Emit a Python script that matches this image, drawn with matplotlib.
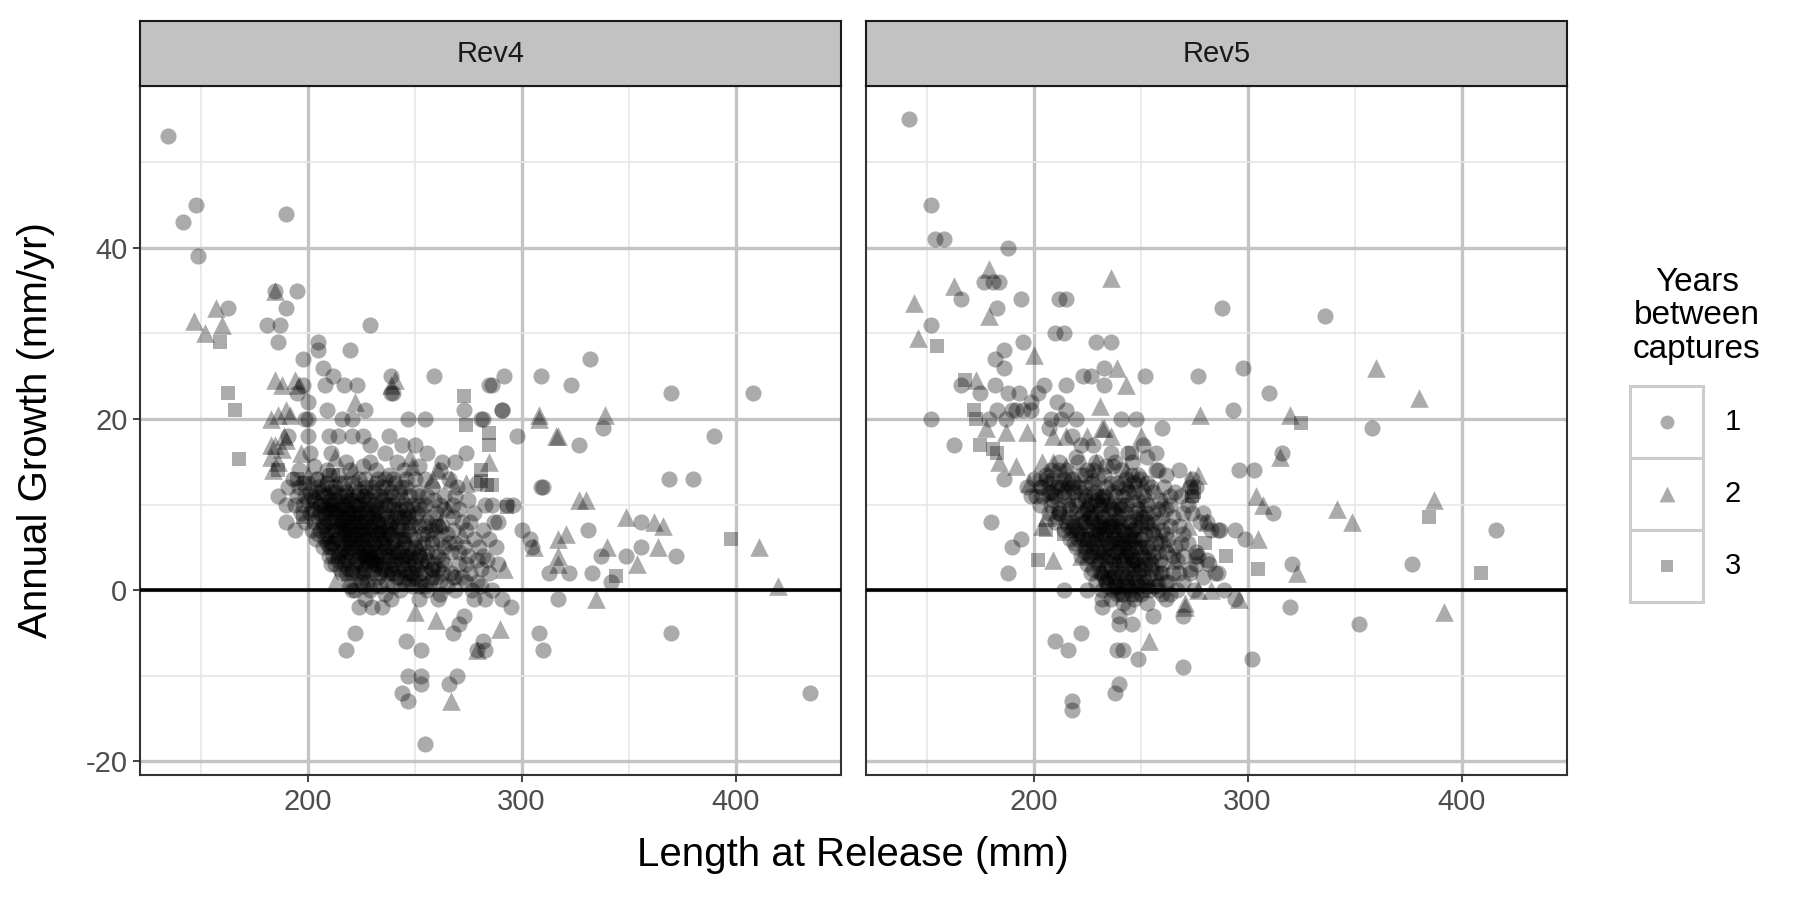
import matplotlib.pyplot as plt
from matplotlib.patches import Rectangle

plt.rcParams['font.family'] = ['Liberation Sans', 'DejaVu Sans']

panel_names = ['Rev4', 'Rev5']
legend_labels = ['1', '2', '3']
x_ticks = [200, 300, 400]
y_ticks = [-20, 0, 20, 40]
x_minor = [150, 250, 350]
y_minor = [-10, 10, 30, 50]

# (length at release, annual growth)
rev4_circle = [
    (135, 53), (148, 45), (142, 43), (190, 44), (149, 39), (185, 35), (195, 35), (190, 33), (163, 33),
    (181, 31), (187, 31), (186, 29), (229, 31), (205, 29), (205, 28), (198, 27), (220, 28), (207, 26),
    (212, 25), (208, 24), (217, 24), (223, 24), (239, 25), (240, 23), (259, 25), (285, 24), (273, 21),
    (282, 20), (198, 24), (195, 23), (200, 22), (209, 21), (227, 21), (200, 20), (247, 20), (255, 20),
    (332, 27), (309, 25), (292, 25), (286, 24), (323, 24), (370, 23), (408, 23), (291, 21), (338, 19),
    (298, 18), (327, 17), (390, 18), (369, 13), (380, 13), (309, 12), (356, 8), (331, 7), (300, 7),
    (304, 6), (337, 4), (349, 4), (356, 5), (372, 4), (342, 1), (313, 2), (322, 2), (333, 2), (317, -1),
    (295, -2), (308, -5), (310, -7), (370, -5), (435, -12), (293, 10), (296, 10),
    (222, -5), (218, -7), (246, -6), (253, -7), (247, -10), (253, -10), (253, -11), (244, -12),
    (247, -13), (255, -18), (266, -11), (270, -10), (273, -3), (271, -4), (268, -5), (282, -6),
    (279, -7), (283, -7), (235, -2), (230, -2), (221, 0), (227, -1), (224, -2), (239, -1), (252, -1),
    (261, -1), (278, -1), (283, -1), (291, -1),
    (239, 23), (291, 21), (199, 20), (216, 20), (221, 20), (281, 20), (191, 18), (200, 18), (210, 18),
    (214, 18), (221, 18), (226, 18), (238, 18), (244, 17), (250, 17), (229, 17), (201, 16), (211, 16),
    (218, 15), (229, 15), (236, 16), (242, 15), (256, 16), (263, 15), (274, 16), (269, 15), (310, 12),
    (250, 13), (246, 13), (233, 13), (224, 13), (269, 11), (286, 10), (289, 8), (305, 5),
    (186, 11), (190, 10), (190, 8), (194, 7),
]
rev4_circle_core = [
    (196, 14), (203, 14.5), (209, 14), (214, 13.5), (220, 14), (226, 14.5), (232, 14), (238, 13.5), (245, 14), (252, 14.5), (262, 14),
    (193, 13), (205, 13), (210, 13.5), (221, 12.5), (227, 13), (240, 13), (255, 13), (266, 13), (279, 12.5),
    (191, 12), (196, 12), (201, 11.5), (205, 12), (209, 12.5), (213, 12), (218, 11.5), (222, 12), (227, 12), (232, 12.5), (237, 12), (243, 11.5), (258, 12), (270, 12),
    (195, 11), (199, 11), (203, 10.5), (207, 11), (211, 11.5), (215, 11), (219, 10.5), (223, 11), (226, 11), (231, 11.5), (236, 11), (242, 10.5), (248, 11), (256, 11), (264, 11), (275, 10.5),
    (194, 10), (198, 10), (202, 9.5), (206, 10), (210, 10), (213, 10.5), (217, 10), (220, 9.5), (224, 10), (228, 10), (233, 10.5), (238, 10), (243, 9.5), (249, 10), (255, 10), (262, 10), (271, 9.5), (283, 10),
    (197, 9), (201, 9), (205, 8.5), (208, 9), (212, 9.5), (215, 9), (219, 8.5), (222, 9), (225, 9), (229, 9.5), (233, 9), (237, 8.5), (242, 9), (247, 9), (253, 9.5), (260, 9), (268, 8.5), (278, 9),
    (199, 8), (203, 8), (207, 7.5), (210, 8), (213, 8.5), (216, 8), (219, 7.5), (222, 8), (225, 8), (228, 8.5), (231, 8), (235, 7.5), (239, 8), (244, 8), (250, 8.5), (256, 8), (263, 7.5), (272, 8), (287, 8),
    (202, 7), (206, 7), (209, 6.5), (212, 7), (215, 7.5), (218, 7), (221, 6.5), (224, 7), (227, 7), (230, 7.5), (234, 7), (238, 6.5), (242, 7), (247, 7), (252, 7.5), (258, 7), (265, 6.5), (274, 7), (282, 7),
    (204, 6), (208, 6), (211, 5.5), (214, 6), (217, 6.5), (220, 6), (223, 5.5), (226, 6), (229, 6), (232, 6.5), (236, 6), (240, 5.5), (245, 6), (250, 6), (256, 6.5), (262, 6), (269, 5.5), (278, 6),
    (207, 5), (211, 5), (214, 4.5), (217, 5), (220, 5.5), (223, 5), (226, 4.5), (229, 5), (232, 5), (235, 5.5), (239, 5), (243, 4.5), (247, 5), (252, 5), (258, 5.5), (264, 5), (271, 4.5), (280, 5), (288, 5),
    (210, 4), (214, 4), (218, 3.5), (221, 4), (224, 4.5), (227, 4), (230, 3.5), (234, 4), (238, 4), (242, 4.5), (246, 4), (250, 3.5), (255, 4), (261, 4), (267, 4.5), (275, 4), (284, 3.5),
    (213, 3), (217, 3), (221, 2.5), (225, 3), (228, 3.5), (232, 3), (236, 2.5), (240, 3), (244, 3), (248, 3.5), (253, 3), (258, 2.5), (264, 3), (271, 3), (279, 3.5), (289, 3),
    (216, 2), (221, 2), (226, 1.5), (230, 2), (235, 2.5), (239, 2), (243, 1.5), (248, 2), (253, 2), (258, 2.5), (263, 2), (269, 1.5), (276, 2), (285, 2),
    (219, 1), (225, 1), (231, 0.5), (237, 1), (242, 1.5), (247, 1), (252, 0.5), (257, 1), (262, 1), (268, 1.5), (274, 1), (281, 0.5),
    (222, 0), (229, 0), (236, -0.5), (243, 0), (249, 0.5), (256, 0), (262, -0.5), (269, 0), (277, 0), (286, 0),
]
rev4_circle_dense = [
    (198, 12.5), (204, 13), (211, 12), (217, 12.5), (224, 11.5), (230, 12), (236, 13), (244, 12), (251, 11.5),
    (200, 10.5), (206, 11.5), (212, 10), (218, 11), (221, 10.5), (227, 9.5), (234, 11), (240, 11), (246, 10), (252, 11), (259, 10.5), (268, 10),
    (203, 9.5), (207, 8), (211, 9), (214, 8), (218, 9.5), (223, 8.5), (226, 7.5), (230, 8.5), (236, 9), (240, 9.5), (245, 8.5), (251, 9), (257, 8.5), (264, 9.5), (276, 8),
    (205, 6.5), (208, 7.5), (213, 6), (216, 7), (219, 6), (222, 7.5), (226, 6.5), (231, 7), (235, 6.5), (239, 6.5), (244, 7), (249, 7.5), (254, 6.5), (261, 7.5), (268, 7), (285, 6),
    (209, 5.5), (212, 4), (216, 5.5), (219, 4.5), (222, 6), (225, 5.5), (228, 4), (231, 5.5), (234, 4.5), (237, 5), (241, 4), (245, 5.5), (249, 4.5), (254, 5.5), (260, 4.5), (266, 5.5), (273, 5), (282, 4),
    (211, 3), (215, 2.5), (219, 3.5), (223, 2), (227, 2.5), (230, 3.5), (234, 2), (238, 3.5), (242, 2.5), (246, 2), (251, 2.5), (256, 3.5), (261, 2.5), (267, 2), (274, 3), (281, 2.5),
    (220, 0.5), (226, 0.5), (233, 1.5), (240, 0.5), (245, 1), (250, 1.5), (255, 0.5), (260, 1.5), (265, 0.5), (272, 1.5), (279, 1),
    (202, 11), (215, 12.5), (229, 10.5), (241, 12.5), (208, 9.5), (220, 8), (233, 7.5), (248, 8), (213, 7), (227, 5), (243, 6),
    (258, 6), (217, 4), (232, 3), (247, 3), (263, 3.5), (210, 10.5), (224, 9), (237, 7), (229, 4.5), (239, 2.5), (214, 9.5),
    (204, 11.5), (209, 11), (213, 11.5), (217, 11), (222, 10), (226, 10.5), (231, 10), (235, 12), (239, 11.5), (246, 12),
    (206, 9), (210, 9.5), (216, 9.5), (221, 9), (224, 8), (228, 9), (232, 9.5), (236, 10), (241, 8.5), (246, 9.5), (252, 10),
    (208, 8.5), (212, 8), (217, 8.5), (220, 7), (223, 6.5), (227, 8), (230, 6), (233, 8), (238, 7.5), (243, 8.5), (248, 6.5), (255, 7.5),
    (210, 5), (215, 6.5), (218, 5.5), (221, 5), (224, 4), (227, 6), (231, 4.5), (234, 6), (237, 4), (241, 6), (245, 4), (250, 5), (256, 4.5),
    (214, 3.5), (219, 2.5), (223, 3.5), (226, 2), (229, 3), (233, 3.5), (237, 2), (241, 3.5), (245, 2.5), (250, 3), (255, 2), (259, 3),
    (228, 1), (234, 0.5), (246, 1.5), (253, 1), (258, 1.5),
    (207, 10), (211, 10.5), (216, 10), (219, 9), (223, 10), (227, 11), (231, 9), (235, 10.5), (240, 10),
    (209, 7), (213, 9), (217, 7.5), (221, 8.5), (225, 7), (229, 7.5), (233, 6.5), (237, 8), (242, 7.5), (247, 8.5),
    (212, 5.5), (216, 4.5), (220, 6.5), (224, 5), (228, 6.5), (232, 4), (236, 5), (240, 4.5), (244, 5), (248, 4),
    (218, 2), (222, 3), (226, 4), (231, 2.5), (235, 3), (240, 2), (244, 3.5), (249, 2), (252, 4),
]
rev4_triangle = [
    (185, 35), (157, 33), (147, 31.5), (160, 31), (152, 30), (241, 24.5), (185, 24.5), (188, 24), (194, 24.5),
    (186, 20.5), (190, 21), (183, 20), (222, 22), (308, 20), (308, 20.5), (339, 20.5), (317, 18),
    (327, 10.5), (330, 10.5), (349, 8.5), (362, 8), (366, 7.5), (411, 5), (317, 6), (321, 6.5), (306, 5),
    (317, 4), (340, 5), (364, 5), (354, 3), (420, 0.5), (335, -1), (260, -3.5), (290, -4.5), (267, -13),
    (250, -2.5), (279, -7), (196, 24), (239, 24), (192, 20.5), (189, 18), (185, 17), (316, 18), (183, 15.5),
    (188, 16.5), (197, 16), (213, 15.5), (221, 14), (248, 15.5), (249, 14.5), (261, 14), (285, 15),
    (258, 13), (267, 13), (274, 12.5), (213, 1), (292, 2.5), (317, 3), (183, 17), (190, 17.5), (186, 15), (184, 14),
    (205, 10.5), (215, 8.5), (230, 4.5), (245, 6.5), (225, 2.5), (255, 3.5), (235, 9.5), (210, 6.5),
    (250, 1.5), (265, 9.5), (220, 11.5), (240, 7.5), (200, 13.5), (218, 5), (232, 9), (252, 5), (272, 6.5),
    (207, 12.5), (245, 11), (262, 8), (226, 3.5),
]
rev4_square = [
    (159, 29), (163, 23), (166, 21), (273, 22.7), (274, 19.3), (168, 15.3), (344, 1.7), (398, 6), (293, 9.7),
    (285, 18.3), (285, 17), (281, 14), (281, 12.7), (284, 12.3), (186, 14), (199, 12.5), (195, 13), (286, 12.3),
    (198, 8.5), (212, 13.5), (236, 5.5), (260, 7.5), (228, 11.5),
]

rev5_circle = [
    (142, 55), (152, 45), (154, 41), (158, 41), (188, 40), (177, 36), (181, 36), (184, 36), (166, 34),
    (183, 33), (194, 34), (212, 34), (215, 34), (288, 33), (152, 31), (210, 30), (214, 30), (195, 29),
    (186, 28), (182, 27), (186, 26), (229, 29), (236, 29), (233, 26), (223, 25), (227, 25), (233, 24),
    (252, 25), (277, 25), (166, 24), (182, 24), (188, 23), (193, 23), (205, 24), (215, 24), (175, 23),
    (202, 23), (199, 22), (211, 22), (215, 21), (248, 20), (260, 19), (152, 20), (179, 20), (187, 20),
    (190, 21), (195, 21), (199, 21), (208, 20), (220, 20), (336, 32), (298, 26), (310, 23), (293, 21),
    (358, 19), (316, 16), (296, 14), (303, 14), (312, 9), (416, 7), (287, 7), (294, 7), (299, 6), (321, 3),
    (377, 3), (289, 0), (294, -1), (320, -2), (352, -4), (302, -8), (163, 17), (180, 8), (194, 6), (190, 5),
    (188, 2), (186, 13), (232, -2), (240, -3), (244, -2), (240, -4), (246, -4), (256, -3), (270, -3),
    (222, -5), (210, -6), (216, -7), (239, -7), (242, -7), (249, -8), (270, -9), (240, -11), (238, -12),
    (218, -13), (218, -14), (274, 13), (273, 12), (286, 7), (274, 9), (277, 4), (282, 3), (286, 2),
    (241, 20), (213, 20), (183, 21), (192, 21), (207, 19), (218, 18), (222, 17), (228, 17), (236, 16),
    (244, 16), (251, 17), (257, 16), (212, 14), (221, 15), (238, 15), (257, 14), (261, 12), (264, 11),
    (274, 11), (276, 4), (273, 2), (278, 8), (281, 8), (214, 0), (225, 0), (232, -1),
    (225, 14), (232, 11), (242, 10), (212, 9),
]
rev5_circle_core = [
    (212, 15), (220, 15.5), (229, 15), (237, 14.5), (246, 15), (253, 15.5),
    (208, 14), (215, 14), (222, 13.5), (228, 14), (234, 14.5), (241, 14), (249, 13.5), (258, 14), (268, 14),
    (200, 13), (206, 13), (212, 12.5), (218, 13), (224, 13.5), (230, 13), (236, 12.5), (243, 13), (250, 13), (262, 13.5),
    (197, 12), (203, 12), (208, 11.5), (213, 12), (219, 12.5), (224, 12), (229, 11.5), (234, 12), (240, 12), (247, 12.5), (255, 12), (266, 11.5), (276, 12),
    (199, 11), (204, 11), (209, 10.5), (214, 11), (219, 11.5), (224, 11), (229, 10.5), (233, 11), (238, 11), (244, 11.5), (251, 11), (259, 10.5), (269, 11),
    (203, 10), (208, 10), (212, 9.5), (216, 10), (221, 10.5), (226, 10), (231, 9.5), (235, 10), (240, 10), (246, 10.5), (253, 10), (262, 9.5), (272, 10),
    (207, 9), (212, 9), (216, 8.5), (220, 9), (225, 9.5), (229, 9), (233, 8.5), (238, 9), (243, 9), (249, 9.5), (256, 9), (265, 8.5), (279, 9),
    (210, 8), (215, 8), (219, 7.5), (223, 8), (227, 8.5), (231, 8), (235, 7.5), (240, 8), (245, 8), (251, 8.5), (258, 8), (268, 7.5),
    (214, 7), (218, 7), (222, 6.5), (226, 7), (230, 7.5), (234, 7), (238, 6.5), (242, 7), (247, 7), (253, 7.5), (260, 7), (270, 6.5), (283, 7),
    (217, 6), (221, 6), (225, 5.5), (229, 6), (233, 6.5), (237, 6), (241, 5.5), (245, 6), (250, 6), (256, 6.5), (263, 6), (272, 5.5),
    (220, 5), (224, 5), (228, 4.5), (232, 5), (236, 5.5), (240, 5), (244, 4.5), (248, 5), (253, 5), (259, 5.5), (266, 5), (276, 4.5),
    (222, 4), (227, 4), (231, 3.5), (235, 4), (239, 4.5), (243, 4), (247, 3.5), (251, 4), (256, 4), (262, 4.5), (270, 4), (281, 3.5),
    (225, 3), (230, 3), (234, 2.5), (238, 3), (242, 3.5), (246, 3), (250, 2.5), (255, 3), (260, 3), (267, 3.5), (276, 3),
    (227, 2), (232, 2), (237, 1.5), (241, 2), (245, 2.5), (249, 2), (254, 1.5), (259, 2), (265, 2), (273, 2.5), (285, 2),
    (229, 1), (234, 1), (239, 0.5), (243, 1), (247, 1.5), (252, 1), (257, 0.5), (263, 1), (270, 1), (279, 1.5),
    (232, 0), (237, 0), (241, -0.5), (245, 0), (249, 0.5), (254, 0), (260, -0.5), (267, 0), (275, 0),
    (236, -1), (242, -1.5), (247, -1), (253, -1.5), (262, -1),
]
rev5_circle_dense = [
    (207, 12.5), (214, 13), (221, 12), (227, 12.5), (233, 13.5), (239, 12.5), (246, 13.5), (253, 12.5),
    (210, 11), (216, 10.5), (222, 11.5), (227, 10), (232, 10.5), (237, 11.5), (243, 10), (249, 10.5), (256, 11.5), (264, 10),
    (211, 8.5), (217, 9.5), (222, 8.5), (227, 9), (231, 10), (236, 8), (241, 9.5), (247, 8.5), (253, 9), (260, 8.5), (270, 9),
    (216, 7.5), (221, 7), (225, 7.5), (229, 6.5), (233, 8), (237, 7), (241, 7.5), (245, 6.5), (250, 7.5), (256, 7), (264, 7.5),
    (219, 5.5), (223, 6), (227, 5), (231, 6.5), (235, 5), (239, 6), (243, 5.5), (247, 6), (251, 5), (257, 5.5), (262, 6.5), (269, 5.5),
    (224, 4.5), (229, 3.5), (233, 4.5), (237, 3.5), (241, 4), (245, 4.5), (249, 3), (254, 4.5), (259, 3.5), (265, 4),
    (228, 2.5), (233, 1.5), (236, 2.5), (240, 1.5), (244, 2), (248, 1), (252, 2.5), (257, 2), (262, 1), (268, 2),
    (235, 0.5), (239, -0.5), (244, 0.5), (248, -0.5), (251, 0), (256, 0.5), (264, -0.5),
    (218, 12), (230, 11), (240, 8.5), (224, 8), (235, 5.5), (246, 3.5), (250, 6), (238, 2), (243, 12),
    (204, 12), (201, 11), (206, 13.5), (226, 6), (242, 5), (248, 7.5), (232, 8.5),
    (203, 13), (207, 11.5), (211, 12), (214, 11.5), (209, 13), (216, 12.5),
    (220, 10), (224, 10.5), (228, 11.5), (233, 10), (237, 9.5), (242, 11), (247, 11.5), (252, 10.5),
    (218, 8), (223, 9), (228, 8), (232, 7.5), (236, 9.5), (240, 7), (244, 8), (248, 9), (253, 8), (258, 9.5),
    (221, 6.5), (225, 6), (228, 7), (232, 6), (236, 7.5), (239, 5.5), (243, 6.5), (247, 5), (252, 6.5), (257, 6),
    (226, 4), (230, 4.5), (234, 3.5), (238, 4.5), (242, 3), (246, 4), (250, 5), (254, 3.5), (258, 4.5),
    (231, 2), (235, 1.5), (239, 2.5), (243, 1.5), (247, 2.5), (251, 1.5), (255, 2.5), (260, 2),
    (238, 0.5), (242, -0.5), (246, 0.5), (250, -0.5), (253, 0.5), (258, 0),
    (226, 8.5), (230, 7), (234, 6), (238, 7.5), (242, 6), (246, 7), (250, 8),
    (228, 5.5), (232, 4), (236, 4), (240, 3.5), (244, 5), (248, 3.5), (252, 3),
    (234, 1), (238, 1), (242, 0.5), (246, -0.5), (250, 1),
]
rev5_triangle = [
    (146, 29.5), (144, 33.5), (163, 35.5), (179, 37.5), (179, 32), (200, 27.5), (239, 26), (236, 36.5),
    (243, 24), (173, 24.5), (231, 21.5), (278, 20.5), (233, 19), (360, 26), (380, 22.5), (320, 20.5),
    (315, 15.5), (304, 11), (307, 10), (342, 9.5), (349, 8), (387, 10.5), (305, 6), (323, 2), (296, -1),
    (392, -2.5), (254, -6), (271, -2), (178, 19), (187, 18.5), (197, 18.5), (209, 18), (215, 18),
    (225, 18), (232, 19), (236, 18), (250, 18), (184, 15), (192, 14.5), (198, 12.5), (204, 15), (209, 15),
    (215, 14.5), (229, 15), (243, 14), (248, 13), (251, 12.5), (273, 13), (277, 13.5), (206, 8.5),
    (204, 7.5), (209, 3.5), (281, 8), (283, 0), (277, 0), (271, -1.5),
    (215, 12.5), (225, 10.5), (238, 8.5), (246, 6.5), (252, 4.5), (232, 2.5), (258, 1.5), (208, 11.5),
    (220, 7.5), (244, 12.5), (262, 5.5), (230, 5.5), (250, 9.5), (240, 0.5), (266, 3.5), (272, 7.5), (228, 13.5),
    (236, 10.5), (255, 8), (244, 1.5), (222, 4), (260, 10.5),
]
rev5_square = [
    (155, 28.5), (168, 24.5), (325, 19.5), (385, 8.5), (409, 2), (290, 4), (305, 2.5), (175, 17), (183, 16),
    (181, 16.5), (172, 21), (173, 20), (246, 16), (274, 11), (275, 11.5), (280, 5.5), (206, 7), (214, 6.5),
    (202, 3.5),
]

W, H = 1800, 900
fig = plt.figure(figsize=(18, 9), dpi=100)


def box(left, top, right, bottom):
    return [left / W, 1 - bottom / H, (right - left) / W, (bottom - top) / H]


def draw_panel(left, right, name, circles, triangles, squares, first):
    ax = fig.add_axes(box(left, 86, right, 775))
    for pts, marker, size in ((circles, 'o', 135), (triangles, '^', 180), (squares, 's', 115)):
        ax.scatter([p[0] for p in pts], [p[1] for p in pts], marker=marker, s=size,
                   c='black', alpha=0.33, linewidths=0, zorder=3)
    ax.axhline(0, color='black', lw=2.6, zorder=4)
    ax.set_xlim(121.7, 449.3)
    ax.set_ylim(-21.6, 58.9)
    ax.set_xticks(x_ticks)
    ax.set_xticks(x_minor, minor=True)
    ax.set_yticks(y_ticks)
    ax.set_yticks(y_minor, minor=True)
    ax.grid(which='major', color='#C4C4C4', lw=2.4)
    ax.grid(which='minor', color='#E6E6E6', lw=1.2)
    ax.set_axisbelow(True)
    ax.tick_params(which='minor', length=0)
    ax.tick_params(which='major', length=5, width=1.3, color='#333333',
                   labelsize=21, labelcolor='#4D4D4D', pad=4)
    if not first:
        ax.tick_params(axis='y', length=0, labelleft=False)
    else:
        ax.set_yticklabels(['-20', '0', '20', '40'])
    for sp in ax.spines.values():
        sp.set_color('#333333')
        sp.set_linewidth(1.5)

    strip = fig.add_axes(box(left, 21, right, 86))
    strip.set_facecolor('#C2C2C2')
    strip.set_xticks([])
    strip.set_yticks([])
    for sp in strip.spines.values():
        sp.set_color('#1A1A1A')
        sp.set_linewidth(1.5)
    strip.text(0.5, 0.5, name, ha='center', va='center', fontsize=21,
               color='#1A1A1A', transform=strip.transAxes)
    return ax


draw_panel(140, 841, panel_names[0],
           rev4_circle + rev4_circle_core + rev4_circle_dense, rev4_triangle, rev4_square, True)
draw_panel(866, 1567, panel_names[1],
           rev5_circle + rev5_circle_core + rev5_circle_dense, rev5_triangle, rev5_square, False)

fig.text(853 / W, 1 - 855 / H, 'Length at Release (mm)', ha='center', va='center', fontsize=29)
fig.text(36 / W, 1 - 430 / H, 'Annual Growth (mm/yr)', ha='center', va='center',
         rotation=90, fontsize=29)

# legend
fig.text(1697 / W, 1 - 316 / H, 'Years\nbetween\ncaptures', ha='center', va='center',
         fontsize=24, linespacing=1.1)
lax = fig.add_axes(box(1630, 386, 1703, 602))
lax.set_xlim(0, 1)
lax.set_ylim(0, 3)
lax.axis('off')
for i, (lab, marker, size) in enumerate(zip(legend_labels, ['o', '^', 's'], [100, 130, 85])):
    yc = 2.5 - i
    lax.add_patch(Rectangle((0, yc - 0.5), 1, 1, facecolor='white', edgecolor='#CCCCCC',
                            lw=2.2, clip_on=False))
    lax.scatter([0.5], [yc], marker=marker, s=size, c='black', alpha=0.33, linewidths=0)
    lax.text(1.3, yc, lab, ha='left', va='center', fontsize=21, color='black')

fig.savefig('out.png', dpi=100)
